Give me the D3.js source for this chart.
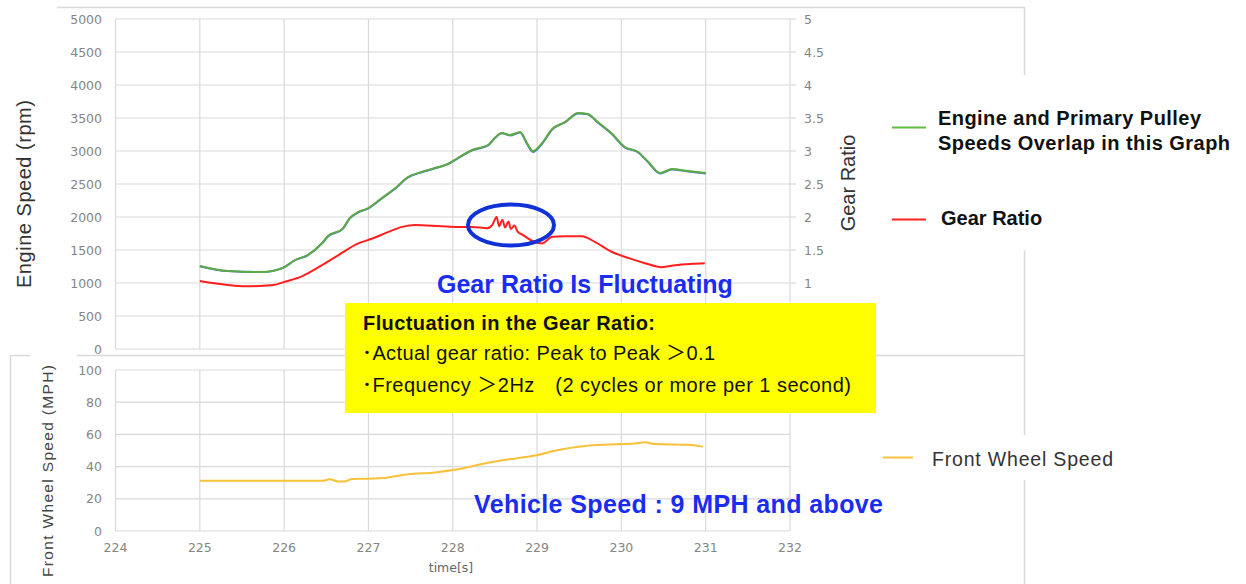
<!DOCTYPE html>
<html>
<head>
<meta charset="utf-8">
<script src="https://cdnjs.cloudflare.com/ajax/libs/d3/7.8.5/d3.min.js"></script>
<style>
   body { margin: 0; background: #fff; }
   svg { display: block; font-family: "Liberation Sans", Arial, "Noto Sans CJK JP", sans-serif; }
   .tick-label { font-family: "DejaVu Sans", sans-serif; font-size: 12.5px; fill: #858585; }
</style>
</head>
<body>
<div id="chart"></div>
<script>
// Engine speed (green) and primary pulley speed (blue), rpm
let engineTime = [225.0, 225.33, 225.74, 225.98, 226.13, 226.28, 226.45, 226.52, 226.69, 226.78, 226.88, 227.0, 227.16, 227.32, 227.47, 227.63, 227.79, 227.94, 228.06, 228.23, 228.42, 228.5, 228.58, 228.68, 228.8, 228.88, 228.95, 229.06, 229.18, 229.33, 229.49, 229.6, 229.72, 229.88, 230.04, 230.2, 230.32, 230.46, 230.6, 230.79, 231.0]
let engineRpm = [1258, 1182, 1167, 1227, 1348, 1424, 1606, 1712, 1818, 1985, 2076, 2136, 2288, 2439, 2606, 2682, 2742, 2803, 2894, 3015, 3091, 3200, 3273, 3242, 3288, 3121, 3000, 3121, 3333, 3439, 3576, 3561, 3439, 3273, 3061, 2985, 2833, 2667, 2727, 2697, 2667]
let pulleyRpm = [1255, 1180, 1165, 1225, 1345, 1420, 1600, 1705, 1812, 1980, 2070, 2130, 2282, 2432, 2600, 2678, 2738, 2800, 2890, 3010, 3085, 3195, 3268, 3236, 3280, 3110, 2985, 3110, 3325, 3432, 3570, 3556, 3432, 3265, 3055, 2978, 2826, 2658, 2720, 2690, 2660]

// Gear ratio
let gearTime = [225.0, 225.33, 225.54, 225.87, 226.01, 226.21, 226.45, 226.64, 226.88, 227.04, 227.23, 227.4, 227.55, 227.87, 228.06, 228.23, 228.41, 228.47, 228.52, 228.55, 228.59, 228.62, 228.66, 228.69, 228.73, 228.77, 228.83, 228.94, 229.06, 229.18, 229.33, 229.53, 229.69, 229.89, 230.08, 230.28, 230.48, 230.64, 230.84, 230.99]
let gearRatio = [1.03, 0.97, 0.95, 0.97, 1.02, 1.10, 1.27, 1.42, 1.60, 1.67, 1.77, 1.85, 1.88, 1.86, 1.85, 1.85, 1.83, 1.88, 2.0, 1.86, 1.96, 1.84, 1.93, 1.82, 1.87, 1.78, 1.73, 1.64, 1.60, 1.70, 1.71, 1.71, 1.62, 1.47, 1.38, 1.30, 1.24, 1.27, 1.29, 1.30]

// Front wheel speed, MPH
let speedTime = [225.0, 226.46, 226.54, 226.64, 226.72, 226.81, 227.0, 227.23, 227.47, 227.79, 228.06, 228.42, 228.74, 229.01, 229.21, 229.6, 230.0, 230.16, 230.28, 230.4, 230.79, 230.97]
let wheelSpeed = [31.2, 31.2, 32.2, 30.8, 30.8, 32.3, 32.5, 33.3, 35.2, 36.4, 38.3, 42.4, 45.1, 47.2, 49.9, 53.0, 54.0, 54.4, 55.1, 54.0, 53.6, 52.4]

// Axis ticks
let timeTicks = [224, 225, 226, 227, 228, 229, 230, 231, 232]
let rpmTicks = [0, 500, 1000, 1500, 2000, 2500, 3000, 3500, 4000, 4500, 5000]
let ratioTicks = [0, 0.5, 1, 1.5, 2, 2.5, 3, 3.5, 4, 4.5, 5]
let speedTicks = [0, 20, 40, 60, 80, 100]

let width = 1246, height = 584
let gridColor = "#d9d9d9"

let svg = d3.select("#chart").append("svg")
   .attr("width", width)
   .attr("height", height)

let x = d3.scaleLinear().domain([224, 232]).range([115.5, 790])
let yRpm = d3.scaleLinear().domain([0, 5000]).range([349, 19])
let yRatio = d3.scaleLinear().domain([0, 5]).range([349, 19])
let ySpeed = d3.scaleLinear().domain([0, 100]).range([531, 370])

// Chart frames
let frame = svg.append("g").attr("stroke", gridColor).attr("stroke-width", 1.5).attr("fill", "none")
frame.append("path").attr("d", "M57,7.5H1024.5V75 M1024.5,250V435 M1024.5,480V584")
frame.append("path").attr("d", "M10.5,584V355.5H30 M77,355.5H1024.5")

function drawGrid(yScale, ticks) {
   let top = yScale.range()[1], bottom = yScale.range()[0]
   let g = svg.append("g").attr("stroke", gridColor).attr("stroke-width", 1.2)
   g.selectAll("line.h").data(ticks).enter().append("line")
      .attr("x1", x(224)).attr("x2", x(232))
      .attr("y1", function(d) { return yScale(d) })
      .attr("y2", function(d) { return yScale(d) })
   g.selectAll("line.v").data(timeTicks).enter().append("line")
      .attr("x1", function(d) { return x(d) })
      .attr("x2", function(d) { return x(d) })
      .attr("y1", top).attr("y2", bottom)
}

drawGrid(yRpm, rpmTicks)
drawGrid(ySpeed, speedTicks)

// Right axis tick marks for the gear ratio
svg.append("g").attr("stroke", gridColor).attr("stroke-width", 1.2)
   .selectAll("line").data(ratioTicks).enter().append("line")
      .attr("x1", x(232)).attr("x2", x(232) + 6)
      .attr("y1", function(d) { return yRatio(d) })
      .attr("y2", function(d) { return yRatio(d) })

// Tick labels
svg.append("g").selectAll("text").data(rpmTicks).enter().append("text")
   .attr("class", "tick-label")
   .attr("text-anchor", "end")
   .attr("x", 102)
   .attr("y", function(d) { return yRpm(d) + 4.5 })
   .text(function(d) { return d })

svg.append("g").selectAll("text").data(ratioTicks.filter(function(d) { return d > 0 })).enter().append("text")
   .attr("class", "tick-label")
   .attr("x", 804)
   .attr("y", function(d) { return yRatio(d) + 4.5 })
   .text(function(d) { return d })

svg.append("g").selectAll("text").data(speedTicks).enter().append("text")
   .attr("class", "tick-label")
   .attr("text-anchor", "end")
   .attr("x", 102)
   .attr("y", function(d) { return ySpeed(d) + 4.5 })
   .text(function(d) { return d })

svg.append("g").selectAll("text").data(timeTicks).enter().append("text")
   .attr("class", "tick-label")
   .attr("text-anchor", "middle")
   .attr("x", function(d) { return x(d) })
   .attr("y", 552)
   .text(function(d) { return d })

// Axis titles
svg.append("text")
   .attr("transform", "translate(31,194) rotate(-90)")
   .attr("text-anchor", "middle")
   .attr("font-size", 20)
   .attr("fill", "#333")
   .attr("textLength", 188)
   .text("Engine Speed (rpm)")

svg.append("text")
   .attr("transform", "translate(855,183) rotate(-90)")
   .attr("text-anchor", "middle")
   .attr("font-size", 20)
   .attr("fill", "#333")
   .text("Gear Ratio")

svg.append("text")
   .attr("transform", "translate(53,471) rotate(-90)")
   .attr("text-anchor", "middle")
   .attr("font-size", 15.5)
   .attr("fill", "#444")
   .attr("textLength", 212)
   .text("Front Wheel Speed  (MPH)")

svg.append("text")
   .attr("x", 451).attr("y", 572)
   .attr("text-anchor", "middle")
   .attr("font-family", "DejaVu Sans, sans-serif")
   .attr("font-size", 12.5)
   .attr("fill", "#666")
   .text("time[s]")

// Series lines
function drawLine(times, values, yScale, color) {
   let pts = times.map(function(t, i) { return [t, values[i]] })
   let line = d3.line()
      .x(function(d) { return x(d[0]) })
      .y(function(d) { return yScale(d[1]) })
      .curve(d3.curveMonotoneX)
   svg.append("path")
      .datum(pts)
      .attr("d", line)
      .attr("fill", "none")
      .attr("stroke", color)
      .attr("stroke-width", 2)
      .attr("stroke-linejoin", "round")
}

drawLine(engineTime, pulleyRpm, yRpm, "#4a7fd0")
drawLine(engineTime, engineRpm, yRpm, "#5ea845")
drawLine(gearTime, gearRatio, yRatio, "#ff1f1f")
drawLine(speedTime, wheelSpeed, ySpeed, "#f8c13a")

// Legends
let legend = svg.append("g")
legend.append("line").attr("x1", 892).attr("x2", 926).attr("y1", 127.5).attr("y2", 127.5)
   .attr("stroke", "#5dbb46").attr("stroke-width", 2)
legend.append("text").attr("x", 938).attr("y", 125)
   .attr("font-size", 20).attr("font-weight", "bold").attr("fill", "#111")
   .attr("textLength", 263)
   .text("Engine and Primary Pulley")
legend.append("text").attr("x", 938).attr("y", 150)
   .attr("font-size", 20).attr("font-weight", "bold").attr("fill", "#111")
   .attr("textLength", 292)
   .text("Speeds Overlap in this Graph")
legend.append("line").attr("x1", 892).attr("x2", 926).attr("y1", 219.5).attr("y2", 219.5)
   .attr("stroke", "#ff2020").attr("stroke-width", 2)
legend.append("text").attr("x", 941).attr("y", 225)
   .attr("font-size", 20).attr("font-weight", "bold").attr("fill", "#111")
   .text("Gear Ratio")

legend.append("line").attr("x1", 883).attr("x2", 913).attr("y1", 457.5).attr("y2", 457.5)
   .attr("stroke", "#f8c13a").attr("stroke-width", 2)
legend.append("text").attr("x", 932).attr("y", 466)
   .attr("font-size", 19.5).attr("fill", "#333")
   .attr("textLength", 181)
   .text("Front Wheel Speed")

// Annotations
svg.append("ellipse")
   .attr("cx", 511).attr("cy", 225)
   .attr("rx", 43).attr("ry", 20.5)
   .attr("fill", "none")
   .attr("stroke", "#1030d8")
   .attr("stroke-width", 4)

svg.append("text")
   .attr("x", 437).attr("y", 293)
   .attr("font-size", 25).attr("font-weight", "bold").attr("fill", "#1a2cf0")
   .text("Gear Ratio Is Fluctuating")

svg.append("rect")
   .attr("x", 345).attr("y", 303)
   .attr("width", 531).attr("height", 110)
   .attr("fill", "#ffff00")

let note = svg.append("g").attr("fill", "#111").attr("font-size", 20)
note.append("text").attr("x", 363).attr("y", 330).attr("font-weight", "bold")
   .attr("textLength", 292)
   .text("Fluctuation in the Gear Ratio:")
note.append("text").attr("x", 362).attr("y", 360)
   .attr("textLength", 353)
   .text("･Actual gear ratio: Peak to Peak ＞0.1")
note.append("text").attr("x", 362).attr("y", 392)
   .attr("textLength", 489)
   .text("･Frequency ＞2Hz　(2 cycles or more per 1 second)")

svg.append("text")
   .attr("x", 474).attr("y", 513)
   .attr("font-size", 25).attr("font-weight", "bold").attr("fill", "#1a2cf0")
   .attr("textLength", 409)
   .text("Vehicle Speed : 9 MPH and above")
</script>
</body>
</html>
